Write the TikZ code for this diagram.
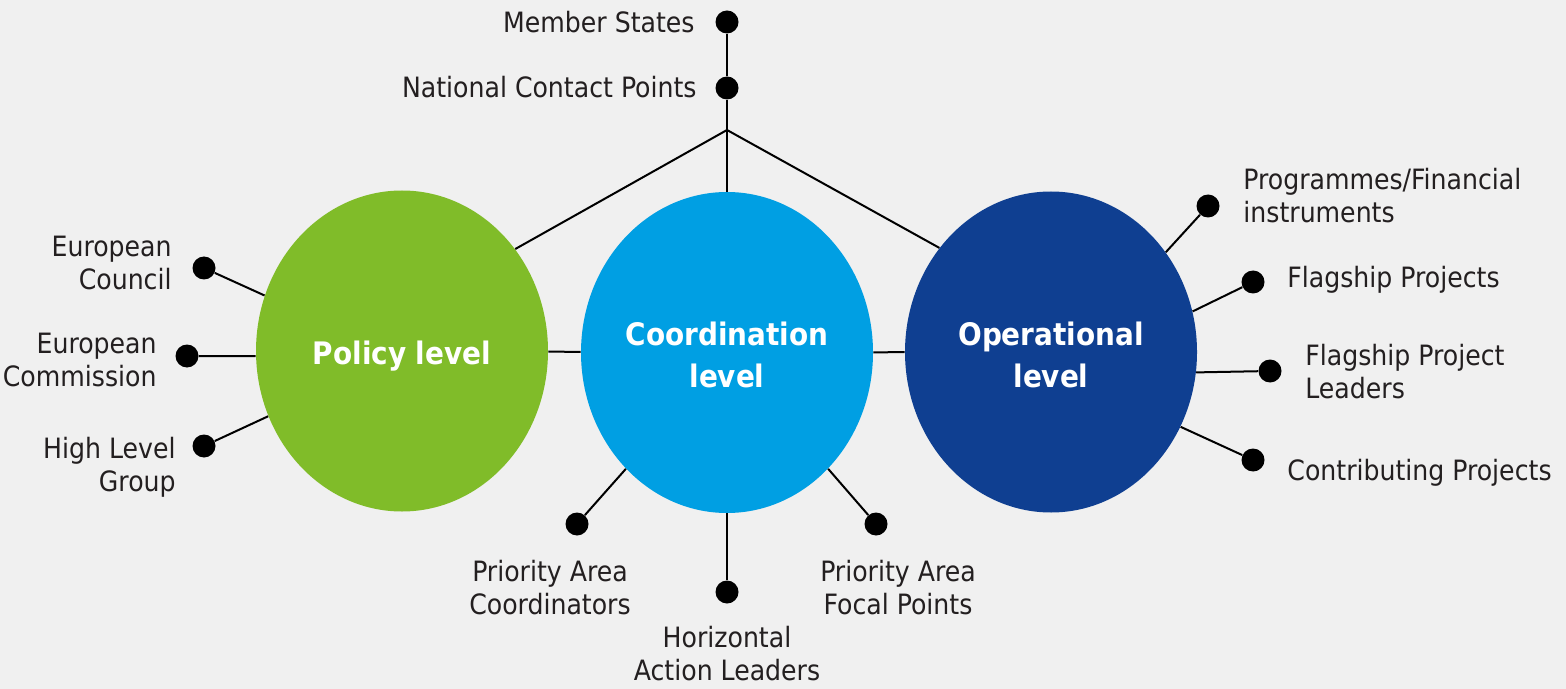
\documentclass[tikz,border=0pt]{standalone}
\usepackage{fontspec}
\setmainfont{DejaVu Sans Condensed}
\usetikzlibrary{shapes.geometric}

\definecolor{bggray}{HTML}{F0F0F0}
\definecolor{policygreen}{HTML}{80BC29}
\definecolor{coordblue}{HTML}{009FE3}
\definecolor{operblue}{HTML}{0F3F91}
\definecolor{txtgray}{HTML}{231F20}

\begin{document}
\begin{tikzpicture}[x=0.5pt,y=-0.5pt,
  lvl/.style={ellipse,minimum width=146pt,minimum height=160.5pt,inner sep=0pt},
  lvltxt/.style={text=white,inner sep=0pt,align=center,font=\bfseries\fontsize{15.5}{21}\selectfont},
  leaf/.style={circle,fill=black,minimum size=11.5pt,inner sep=0pt},
  lbl/.style={text=txtgray,inner sep=0pt,font=\fontsize{14}{16.5}\selectfont},
  link/.style={line width=1pt,black}]
\useasboundingbox (0,0) rectangle (1566,689);
\fill[bggray] (0,0) rectangle (1566,689);

% the three levels
\node[lvl,fill=policygreen] (policy) at (402,351) {};
\node[lvl,fill=coordblue] (coord) at (727,352.5) {};
\node[lvl,fill=operblue] (oper) at (1051,352) {};
\node[lvltxt] (policytxt) at (402,356) {Policy level};
\node[lvltxt] (coordtxt) at (727,355) {Coordination\\level};
\node[lvltxt] (opertxt) at (1051,355) {Operational\\level};

% dots
\node[leaf] (ms) at (727,22) {};
\node[leaf] (ncp) at (727,88) {};
\coordinate (junc) at (727,130);
\node[leaf] (ec) at (204,268) {};
\node[leaf] (com) at (187,356) {};
\node[leaf] (hlg) at (204,446) {};
\node[leaf] (pac) at (577,524) {};
\node[leaf] (hal) at (727,592) {};
\node[leaf] (pafp) at (876,524) {};
\node[leaf] (pfi) at (1208,206) {};
\node[leaf] (fp) at (1253,282) {};
\node[leaf] (fpl) at (1270,371) {};
\node[leaf] (cp) at (1253,460) {};

% labels
\node[lbl,anchor=east] (msl) at (695,22) {Member States};
\node[lbl,anchor=east] (ncpl) at (697,87) {National Contact Points};
\node[lbl,anchor=east,align=right] (ecl) at (172,263) {European\\Council};
\node[lbl,anchor=east,align=right] (coml) at (157,360) {European\\Commission};
\node[lbl,anchor=east,align=right] (hlgl) at (176,467) {High Level\\Group};
\node[lbl,align=center] (pacl) at (550,588) {Priority Area\\Coordinators};
\node[lbl,align=center] (hall) at (727,654) {Horizontal\\Action Leaders};
\node[lbl,align=center] (pafpl) at (898,588) {Priority Area\\Focal Points};
\node[lbl,anchor=west,align=left] (pfil) at (1243,196) {Programmes/Financial\\instruments};
\node[lbl,anchor=west] (fpl2) at (1287,280) {Flagship Projects};
\node[lbl,anchor=west,align=left] (fpll) at (1305,372) {Flagship Project\\Leaders};
\node[lbl,anchor=west] (cpl) at (1287,473) {Contributing Projects};

% connectors
\draw[link] (ms) -- (ncp) -- (junc);
\draw[link] (junc) -- (policy.42);
\draw[link] (junc) -- (coord);
\draw[link] (junc) -- (oper.137);
\draw[link] (policy) -- (coord);
\draw[link] (coord) -- (oper);
\draw[link] (ec) -- (policy.158);
\draw[link] (com) -- (policy.182);
\draw[link] (hlg) -- (policy.206.6);
\draw[link] (pac) -- (coord.229);
\draw[link] (hal) -- (coord);
\draw[link] (pafp) -- (coord.311);
\draw[link] (pfi) -- (oper.41);
\draw[link] (fp) -- (oper.16.5);
\draw[link] (fpl) -- (oper.352.5);
\draw[link] (cp) -- (oper.330);
\end{tikzpicture}
\end{document}
